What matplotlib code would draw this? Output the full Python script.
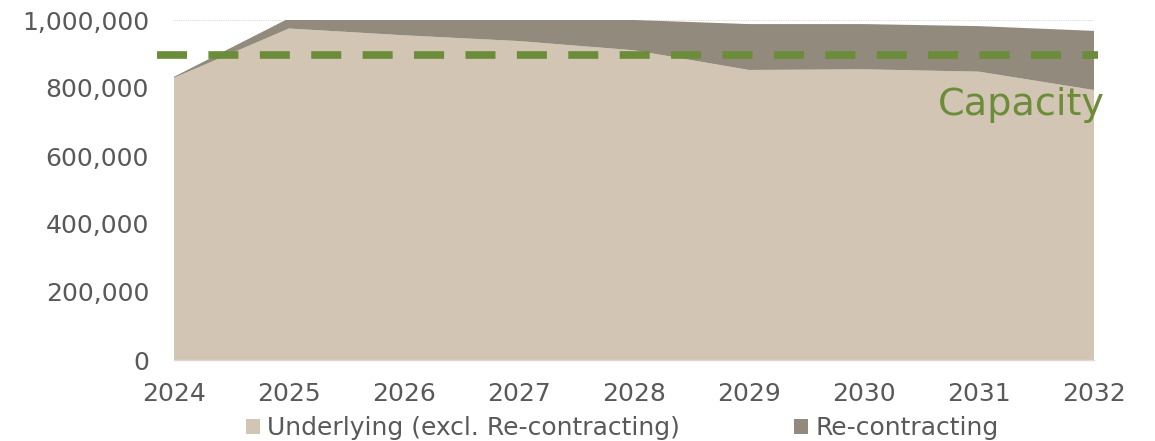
import matplotlib
matplotlib.use("Agg")
import matplotlib.pyplot as plt
from matplotlib.patches import Patch
from matplotlib.ticker import FuncFormatter

years = [2024, 2025, 2026, 2027, 2028, 2029, 2030, 2031, 2032]
underlying = [830000, 975000, 955000, 938000, 911000, 853000, 855000, 848000, 794000]
recontracting = [3000, 30000, 48000, 62000, 89000, 135000, 133000, 134000, 174000]
capacity = 896000
series_labels = ["Underlying (excl. Re-contracting)", "Re-contracting"]
yticks = [0, 200000, 400000, 600000, 800000, 1000000]

c_under = "#D3C5B4"
c_recon = "#938A7E"
c_green = "#6B8C38"
c_text = "#595959"

fig = plt.figure(figsize=(11.55, 4.41), dpi=100)
ax = fig.add_axes([174/1155, 1-360/441, (1094-174)/1155, 340/441])

ax.stackplot(years, underlying, recontracting, colors=[c_under, c_recon],
             labels=series_labels, linewidth=0, zorder=2)

ax.set_xlim(years[0], years[-1])
ax.set_ylim(0, 1000000)
ax.set_yticks(yticks)
ax.yaxis.set_major_formatter(FuncFormatter(lambda v, p: f"{int(v):,}"))
ax.set_xticks(years)
ax.set_xticklabels([str(y) for y in years])

ax.grid(axis="y", color="#D9D9D9", linestyle=(0, (1, 1)), linewidth=0.8, zorder=0)
ax.set_axisbelow(True)
for s in ["top", "right", "left"]:
    ax.spines[s].set_visible(False)
ax.spines["bottom"].set_color("#D9D9D9")
ax.spines["bottom"].set_linewidth(1)
ax.tick_params(axis="both", length=0, labelsize=18, colors=c_text)
ax.tick_params(axis="x", pad=16)
ax.tick_params(axis="y", pad=18)

# Capacity line
x0 = years[0] - 17/115
x1 = years[-1] + 4/115
ax.plot([x0, x1], [capacity, capacity], color=c_green, linewidth=5.5,
        dashes=(3.93, 2.8), clip_on=False, zorder=3, solid_capstyle="butt",
        dash_capstyle="butt")
ax.text(years[-1] + 11/115, 720000, "Capacity", color=c_green, fontsize=27.5,
        ha="right", va="baseline", zorder=4, clip_on=False)

handles = [Patch(facecolor=c_under, edgecolor="none"), Patch(facecolor=c_recon, edgecolor="none")]
fig.legend(handles, series_labels, loc="center", bbox_to_anchor=(0.539, 1-428/441),
           ncol=2, frameon=False, fontsize=18, labelcolor=c_text,
           handlelength=0.55, handleheight=0.55, handletextpad=0.3, columnspacing=4.57,
           borderpad=0, borderaxespad=0)

fig.savefig("out.png", dpi=100)
